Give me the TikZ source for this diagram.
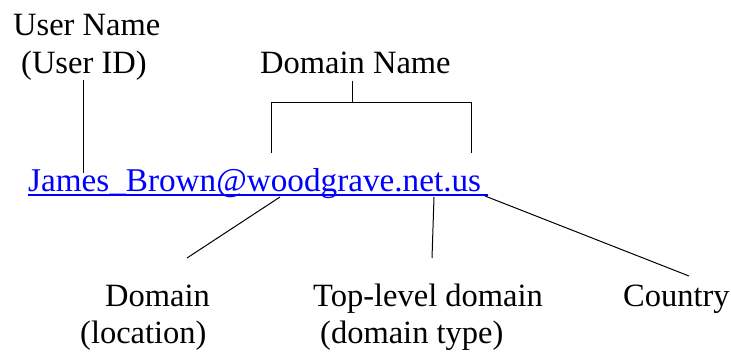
\documentclass[tikz,border=0pt]{standalone}
\usepackage{fontspec}
\setmainfont{Liberation Serif}

\begin{document}
\begin{tikzpicture}[x=1pt,y=-1pt,
  lbl/.style={anchor=base west,inner sep=0pt,font=\fontsize{32.5}{38}\selectfont},
  link/.style={lbl,text=blue,font=\fontsize{33.2}{38}\selectfont},
  leg/.style={line width=1pt}]
  \useasboundingbox (0,0) rectangle (731,351);

  % Draw the labels above the address
  \node[lbl] (uname) at (13,35) {User Name};
  \node[lbl] (uid) at (21,73) {(User ID)};
  \node[lbl] (dname) at (260,73) {Domain Name};

  % Draw the address
  \node[link] (email) at (28,191) {James\_Brown@woodgrave.net.us\kern0.2em};
  \draw[blue,line width=1.2pt] ([yshift=-4pt]email.base west) -- ([yshift=-4pt]email.base east);

  % Draw the labels below the address
  \node[lbl] (dom) at (105,306) {Domain};
  \node[lbl] (loc) at (80,343) {(location)};
  \node[lbl] (tld) at (313,306) {Top-level domain};
  \node[lbl] (dtype) at (320,343) {(domain type)};
  \node[lbl] (ctry) at (623,306) {Country};

  % Points on the address
  \coordinate (uhit) at (83,173);
  \coordinate (dleft) at (271,153);
  \coordinate (dright) at (471,153);
  \coordinate (domhit) at (280,197);
  \coordinate (tldhit) at (434,197);
  \coordinate (ctryhit) at (485,196);

  % Draw the connectors
  \draw[leg] (uid.south -| uhit) -- (uhit);
  \draw[leg] ([yshift=-7pt]dname.south -| 352,0) -- (352,102);
  \draw[leg] (dleft) -- (dleft |- 0,102) -- (dright |- 0,102) -- (dright);
  \draw[leg] (domhit) -- (187,258);
  \draw[leg] (tldhit) -- (432,258);
  \draw[leg] (ctryhit) -- (689,276);

\end{tikzpicture}
\end{document}
